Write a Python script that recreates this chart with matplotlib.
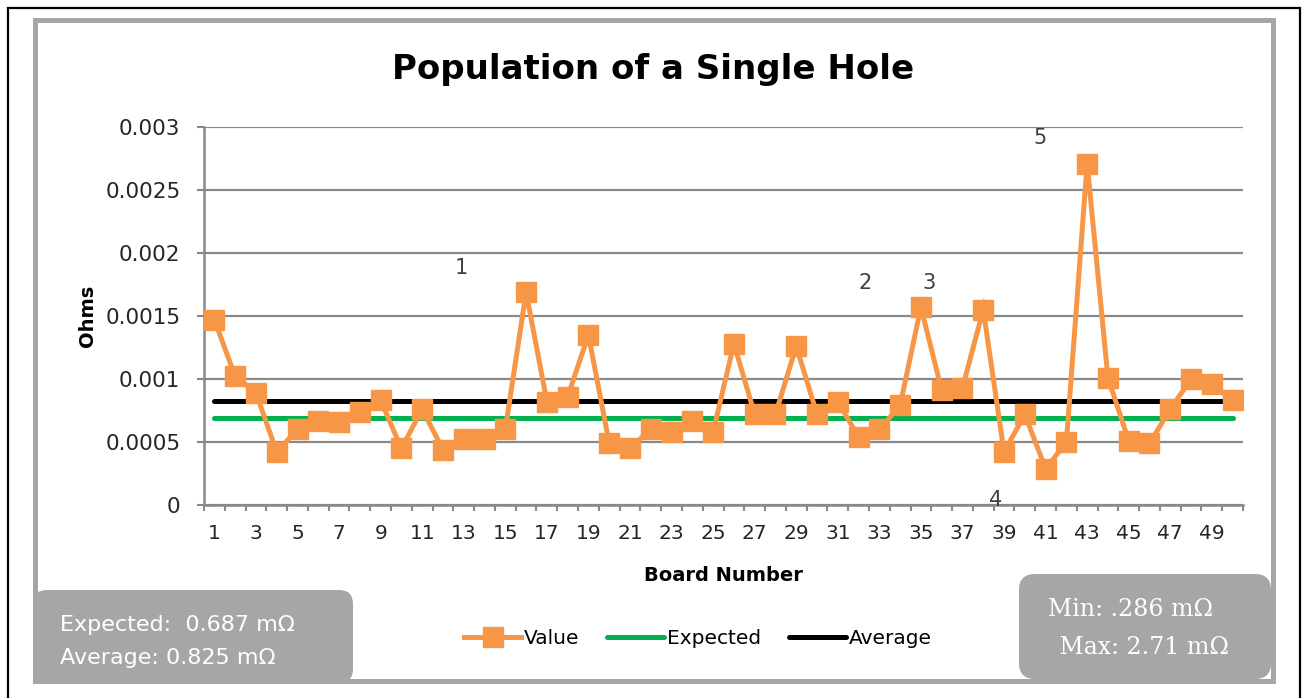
import matplotlib

matplotlib.use("Agg")

import matplotlib.pyplot as plt
import numpy as np
from matplotlib.lines import Line2D
from matplotlib.patches import FancyBboxPatch, Rectangle
from matplotlib.transforms import IdentityTransform

W, H = 1302, 698

# board numbers and measured resistance (ohms)
boards = list(range(1, 51))
values = [
    0.00147, 0.00102, 0.00089, 0.00042, 0.00060, 0.00067, 0.00066, 0.00074, 0.00083, 0.00045,
    0.00076, 0.00044, 0.00052, 0.00052, 0.00060, 0.00169, 0.00082, 0.00086, 0.00135, 0.00049,
    0.00045, 0.00060, 0.00058, 0.00067, 0.00058, 0.00128, 0.00072, 0.00072, 0.00126, 0.00072,
    0.00082, 0.00054, 0.00060, 0.00079, 0.00157, 0.00091, 0.00093, 0.00155, 0.00042, 0.00072,
    0.000286, 0.00050, 0.00271, 0.00101, 0.00051, 0.00049, 0.00076, 0.00100, 0.00096, 0.00083,
]
expected = 0.000687
average = 0.000825

# stray data labels left on the chart
label_texts = ["1", "2", "3", "4", "5"]
label_x = [12.9, 32.3, 35.4, 38.6, 40.75]
label_y = [0.00188, 0.00176, 0.00176, 0.00004, 0.00291]

y_ticks = [0, 0.0005, 0.001, 0.0015, 0.002, 0.0025, 0.003]
y_tick_labels = ["0", "0.0005", "0.001", "0.0015", "0.002", "0.0025", "0.003"]
x_tick_labels = [str(b) for b in boards if b % 2 == 1]

left_box_lines = ["Expected:  0.687 m\u03a9", "Average: 0.825 m\u03a9"]
right_box_lines = ["Min: .286 m\u03a9", " Max: 2.71 m\u03a9"]

ORANGE = "#F79646"
GREEN = "#00B050"
GRID = "#898989"
BOX = "#A6A6A9"
FONT = "DejaVu Sans"


def fx(x):
    return x / W


def fy(y):
    return 1 - y / H


def px_rect(x0, y0, x1, y1):
    # top-left pixel coords -> display coords (origin bottom-left)
    return x0, H - y1, x1 - x0, y1 - y0


fig = plt.figure(figsize=(W / 100, H / 100), dpi=100)
fig.patch.set_facecolor("white")

# outer black frame and grey chart border
x0, y0, w, h = px_rect(8, 8, 1300, 705)
fig.add_artist(Rectangle((x0, y0), w, h, transform=IdentityTransform(), fill=False,
                         edgecolor="black", lw=1.6, zorder=0))
x0, y0, w, h = px_rect(35, 20, 1273, 681)
fig.add_artist(Rectangle((x0, y0), w, h, transform=IdentityTransform(), fill=False,
                         edgecolor=BOX, lw=3.6, zorder=0))

ax = fig.add_axes([fx(204), fy(505), fx(1243) - fx(204), fy(127) - fy(505)])
ax.set_facecolor("none")

ax.plot(boards, values, color=ORANGE, lw=3.6, marker="s", ms=14, mec=ORANGE, mfc=ORANGE,
        label="Value", zorder=4, solid_joinstyle="miter")
ax.plot([boards[0], boards[-1]], [expected, expected], color=GREEN, lw=3.6,
        solid_capstyle="round", label="Expected", zorder=3)
ax.plot([boards[0], boards[-1]], [average, average], color="black", lw=3.6,
        solid_capstyle="round", label="Average", zorder=3)

for t, xx, yy in zip(label_texts, label_x, label_y):
    ax.text(xx, yy, t, ha="center", va="center", fontsize=15, color="#404040", family=FONT)

ax.set_xlim(0.5, 50.5)
ax.set_ylim(0, 0.003)
ax.set_yticks(y_ticks)
ax.set_yticklabels(y_tick_labels, fontsize=15.5, family=FONT, color="#262626")
ax.set_xticks([b for b in boards if b % 2 == 1])
ax.set_xticklabels(x_tick_labels, fontsize=14.5, family=FONT, color="#262626")
ax.set_xticks(np.arange(0.5, 51, 1.0), minor=True)
ax.tick_params(axis="x", which="major", length=0, pad=14)
ax.tick_params(axis="x", which="minor", length=4, width=1.5, color=GRID, direction="out")
ax.tick_params(axis="y", which="major", length=5, width=1.5, color=GRID, pad=12)
ax.grid(axis="y", color=GRID, lw=1.6, zorder=0)
ax.set_axisbelow(True)
for side in ("top", "right"):
    ax.spines[side].set_visible(False)
for side in ("left", "bottom"):
    ax.spines[side].set_color(GRID)
    ax.spines[side].set_linewidth(1.8)

ax.set_xlabel("Board Number", fontsize=14, fontweight="bold", family=FONT, labelpad=16)
ax.set_ylabel("Ohms", fontsize=14, fontweight="bold", family=FONT, labelpad=6)

fig.text(fx(653), fy(70), "Population of a Single Hole", ha="center", va="center",
         fontsize=24.5, fontweight="bold", family=FONT)

handles = [
    Line2D([], [], color=ORANGE, lw=3.6, marker="s", ms=14),
    Line2D([], [], color=GREEN, lw=3.6, solid_capstyle="round"),
    Line2D([], [], color="black", lw=3.6, solid_capstyle="round"),
]
fig.legend(handles, ["Value", "Expected", "Average"], loc="center", ncol=3,
           bbox_to_anchor=(fx(698), fy(639)), frameon=False, handlelength=2.8,
           handletextpad=0.15, columnspacing=1.4, prop={"family": FONT, "size": 14.5})

# grey stats boxes
x0, y0, w, h = px_rect(33, 590, 353, 683)
fig.add_artist(FancyBboxPatch((x0, y0), w, h, boxstyle="round,pad=0,rounding_size=14",
                              transform=IdentityTransform(), facecolor=BOX, edgecolor="none",
                              zorder=5))
fig.text(fx(60), fy(625), left_box_lines[0], ha="left", va="center", fontsize=16,
         color="white", family=FONT, zorder=6)
fig.text(fx(60), fy(658), left_box_lines[1], ha="left", va="center", fontsize=16,
         color="white", family=FONT, zorder=6)

x0, y0, w, h = px_rect(1019, 574, 1271, 679)
fig.add_artist(FancyBboxPatch((x0, y0), w, h, boxstyle="round,pad=0,rounding_size=16",
                              transform=IdentityTransform(), facecolor=BOX, edgecolor="none",
                              zorder=5))
fig.text(fx(1048), fy(609), right_box_lines[0], ha="left", va="center", fontsize=17,
         color="white", family="DejaVu Serif", zorder=6)
fig.text(fx(1052), fy(647), right_box_lines[1], ha="left", va="center", fontsize=17,
         color="white", family="DejaVu Serif", zorder=6)

fig.savefig("out.png", dpi=100)
plt.close(fig)
